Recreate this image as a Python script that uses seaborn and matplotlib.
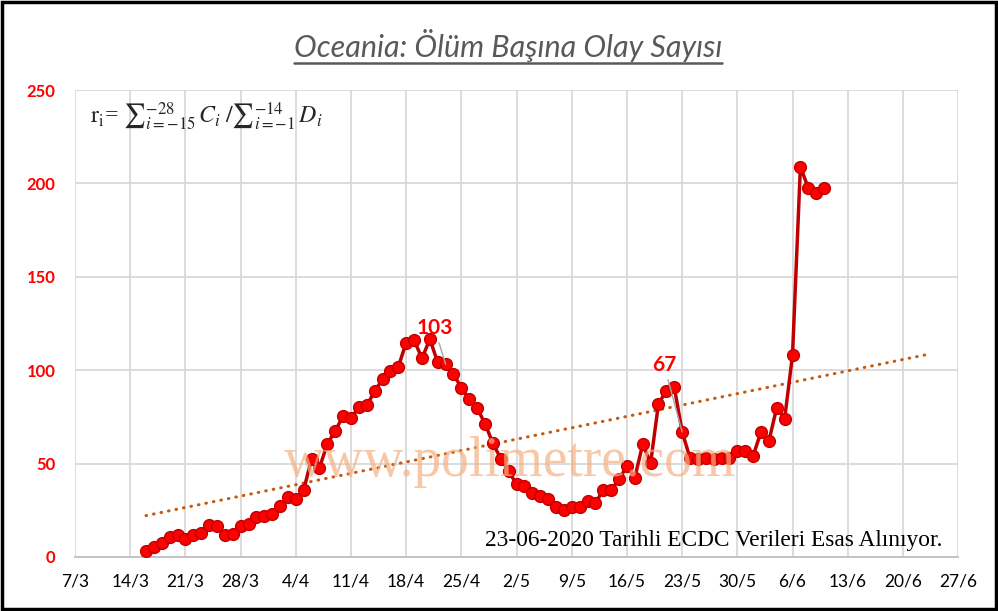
import numpy as np
import pandas as pd
import matplotlib
matplotlib.use("Agg")
import matplotlib.pyplot as plt
import seaborn as sns
from matplotlib.patches import Rectangle
from matplotlib.lines import Line2D

TITLE = "Oceania: Ölüm Başına Olay Sayısı"
SOURCE = "23-06-2020 Tarihli ECDC Verileri Esas Alınıyor."
WATERMARK = "www.polimetre.com"
FIRST_DAY = "2020-03-16"

# daily ratio values (16/3 .. 10/6)
ratio = [
    3.4, 5.2, 7.4, 10.6, 12.0, 9.5, 11.7, 12.8, 16.9, 16.4,
    11.7, 12.4, 16.4, 17.8, 21.4, 22.1, 22.8, 27.1, 32.0, 31.3,
    35.8, 52.7, 47.9, 60.4, 67.6, 75.4, 74.3, 80.2, 81.1, 88.7,
    95.2, 99.8, 101.8, 114.8, 116.2, 106.3, 116.6, 104.2, 103.2, 97.7,
    90.7, 84.4, 79.7, 71.4, 60.8, 52.7, 46.0, 38.9, 37.9, 34.4,
    32.5, 30.8, 26.8, 25.4, 26.8, 26.8, 29.8, 29.0, 35.8, 35.8,
    41.6, 48.7, 42.5, 60.4, 50.3, 82.0, 89.0, 91.0, 67.0, 53.0,
    52.5, 53.0, 52.5, 53.0, 53.0, 56.8, 56.8, 54.0, 67.0, 62.0,
    80.0, 74.0, 108.0, 209.0, 197.5, 195.0, 197.5,
]
x_labels = ["7/3", "14/3", "21/3", "28/3", "4/4", "11/4", "18/4", "25/4", "2/5",
            "9/5", "16/5", "23/5", "30/5", "6/6", "13/6", "20/6", "27/6"]
y_ticks = [0, 50, 100, 150, 200, 250]
# labelled points: index in ratio, text
notes = [(38, "103"), (68, "67")]
FORECAST_DAYS = 13

dates = pd.date_range(FIRST_DAY, periods=len(ratio), freq="D")
df = pd.DataFrame({"date": dates, "ratio": ratio})
tick_dates = pd.to_datetime([f"{l}/2020" for l in x_labels], format="%d/%m/%Y")

sns.set_style("white")
plt.rcParams["font.family"] = ["Lato", "DejaVu Sans"]
plt.rcParams["mathtext.fontset"] = "stix"

fig = plt.figure(figsize=(9.98, 6.11), dpi=100)
ax = fig.add_axes([0.0752, 0.0884, 0.8848, 0.7643])

# linear trend like excel, with forward forecast
t = np.arange(len(ratio))
coef = np.polyfit(t, ratio, 1)
t_ext = np.arange(len(ratio) + FORECAST_DAYS)
trend_dates = pd.date_range(FIRST_DAY, periods=len(t_ext), freq="D")
ax.plot(trend_dates, np.polyval(coef, t_ext), color="#C55A11", lw=2.2,
        linestyle=(0, (0.2, 2.3)), dash_capstyle="round", zorder=2)

sns.lineplot(data=df, x="date", y="ratio", ax=ax, color="#C00000", lw=2.5,
             marker="o", markersize=8.5, markerfacecolor="#FF0000",
             markeredgecolor="#C00000", markeredgewidth=1, zorder=3)

offsets = {"103": (-8, 26), "67": (-13, 48)}
for i, txt in notes:
    ax.annotate(txt, xy=(dates[i], ratio[i]), xytext=offsets[txt],
                textcoords="offset points", ha="center", va="center",
                color="#FF0000", fontsize=15, fontweight="bold",
                arrowprops=dict(arrowstyle="-", color="#A6A6A6", lw=1, shrinkA=1, shrinkB=0),
                zorder=4)

ax.set_xlim(tick_dates[0], tick_dates[-1])
ax.set_ylim(0, 250)
ax.set_xticks(tick_dates)
ax.set_xticklabels(x_labels)
ax.set_yticks(y_ticks)
ax.set_xlabel("")
ax.set_ylabel("")
ax.grid(True, color="#D9D9D9", lw=1.3)
ax.set_axisbelow(True)
for s in ["left", "right", "top"]:
    ax.spines[s].set_visible(False)
ax.spines["bottom"].set_color("#BFBFBF")
ax.spines["bottom"].set_linewidth(1.3)
ax.tick_params(axis="x", length=0, pad=12, labelsize=12.5, labelcolor="black")
ax.tick_params(axis="y", length=0, pad=14, labelsize=12, labelcolor="#FF0000")
for lbl in ax.get_yticklabels():
    lbl.set_fontweight("bold")

ax.text(0.017, 0.945, r"$\mathrm{r_i}$= $\sum{}_{i=-15}^{-28}\,C_i\;/\sum{}_{i=-1}^{-14}\,D_i$",
        transform=ax.transAxes, ha="left", va="center", fontsize=17.2,
        family="Liberation Serif")
ax.text(0.982, 0.012, SOURCE, transform=ax.transAxes, ha="right", va="bottom",
        fontsize=16.8, family="Liberation Serif", color="black")
ax.text(0.4926, 0.203, WATERMARK, transform=ax.transAxes, ha="center", va="center",
        fontsize=40, family="Liberation Serif", color="#F4B183", alpha=0.7, zorder=5)

title = fig.text(0.509, 0.926, TITLE, ha="center", va="center", style="italic",
                 fontsize=22, color="#595959")

fig.patches.append(Rectangle((0.0025, 0.004), 0.995, 0.992, transform=fig.transFigure,
                             fill=False, ec="black", lw=2.5))

fig.canvas.draw()
bb = title.get_window_extent()
W, H = fig.bbox.width, fig.bbox.height
uy = (bb.y0 - 1) / H
fig.add_artist(Line2D([bb.x0 / W, bb.x1 / W], [uy, uy], transform=fig.transFigure,
                      color="#595959", lw=1.8))

fig.savefig("out.png", dpi=100)
plt.close(fig)
